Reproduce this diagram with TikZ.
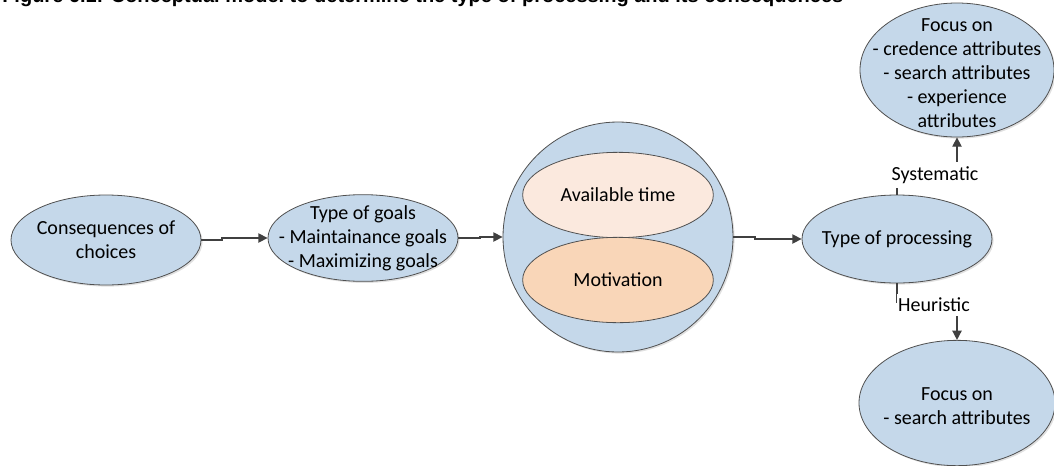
\documentclass[tikz,border=0pt]{standalone}
\usepackage{fontspec}
\usepackage{graphicx}
\setmainfont{Carlito}
\newfontfamily\titlefont{Liberation Sans}
\usetikzlibrary{shapes.geometric,arrows.meta,shadows}
\definecolor{bluefill}{RGB}{197,216,234}
\definecolor{peachlight}{RGB}{251,233,222}
\definecolor{peachdark}{RGB}{249,214,184}
\definecolor{outline}{RGB}{80,80,80}
\definecolor{arrowcol}{RGB}{64,64,64}
\tikzset{
  oval/.style={ellipse, draw=outline, line width=0.6pt, fill=bluefill, inner sep=0pt,
    drop shadow={shadow xshift=1.2pt, shadow yshift=-1.2pt, fill=black, opacity=0.12}},
  txt/.style={align=center, font=\fontsize{15}{18}\selectfont, inner sep=0pt},
  conn/.style={draw=arrowcol, line width=1.1pt, -{Triangle[length=7pt, width=7pt]}},
  lbl/.style={fill=white, font=\fontsize{15}{18}\selectfont, inner xsep=0.75pt, inner ysep=3pt}
}
\begin{document}
\begin{tikzpicture}[x=0.75pt, y=-0.75pt]
\clip (0,0) rectangle (1054,465);
\fill[white] (0,0) rectangle (1054,465);
% title
\node[anchor=base west, inner sep=0pt] (title) at (2,2.5)
  {\resizebox{630.75pt}{!}{\titlefont\bfseries Figure 6.1: Conceptual model to determine the type of processing and its consequences}};
% nodes
\node[oval, minimum width=142.5pt, minimum height=67.5pt,
  label={[txt]center:Consequences of\\choices}] (cons) at (106,240) {};
\node[oval, minimum width=142.5pt, minimum height=65pt,
  label={[txt]center:Type of goals\\- Maintainance goals\\- Maximizing goals}] (goals) at (363,238) {};
\node[oval, minimum width=172.5pt, minimum height=172.5pt] (big) at (618,237) {};
\node[ellipse, draw=outline, line width=0.6pt, fill=peachlight, inner sep=0pt,
  minimum width=143pt, minimum height=64pt, label={[txt]center:Available time}] (time) at (618,195) {};
\node[ellipse, draw=outline, line width=0.6pt, fill=peachdark, inner sep=0pt,
  minimum width=143pt, minimum height=64pt, label={[txt]center:Motivation}] (motiv) at (618,280) {};
\node[oval, minimum width=142.5pt, minimum height=66pt,
  label={[txt]center:Type of processing}] (proc) at (897,239) {};
\node[oval, minimum width=145.5pt, minimum height=100.5pt,
  label={[txt, yshift=-2pt]center:Focus on\\- credence attributes\\- search attributes\\- experience\\attributes}] (top) at (957,70) {};
\node[oval, minimum width=147pt, minimum height=94pt,
  label={[txt, yshift=-2pt]center:Focus on\\- search attributes}] (bot) at (957,403) {};
% bend coordinates
\coordinate (j1) at (222,240);
\coordinate (j2) at (480,238);
\coordinate (j3) at (755,237);
\coordinate (sysbend) at (957,177);
\coordinate (heubend) at (957,302);
% connectors
\draw[conn] (cons.east) -- (j1) |- (goals.west);
\draw[conn] (goals.east) -- (j2) |- (big.west);
\draw[conn] (big.east) -- (j3) |- (proc.west);
\draw[conn] (proc.north) |- (sysbend) -- (top.south);
\draw[conn] (proc.south) |- (heubend) -- (bot.north);
\node[lbl] (syslbl) at (935,175) {Systematic};
\node[lbl] (heulbl) at (934,305) {Heuristic};
\end{tikzpicture}
\end{document}
